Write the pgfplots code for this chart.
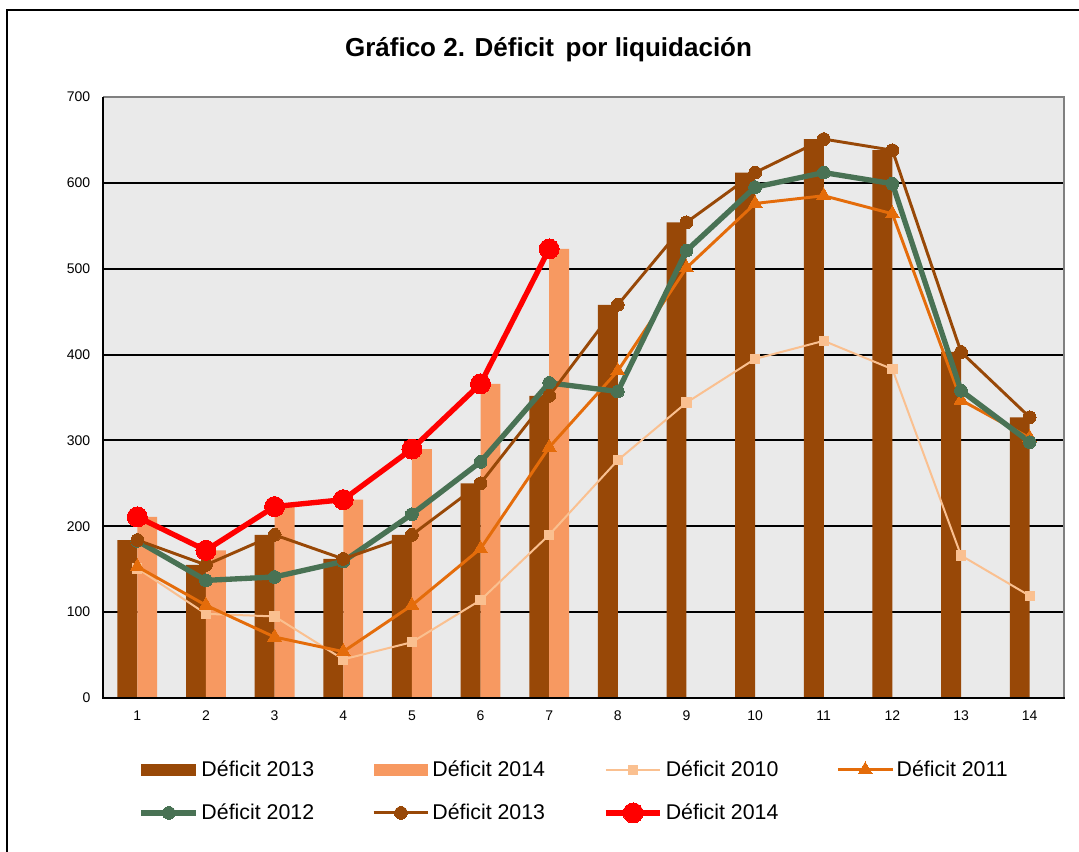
\documentclass[border=0pt]{standalone}
\usepackage{fontspec}
\setmainfont{Liberation Sans}
\usepackage{pgfplots}
\pgfplotsset{compat=1.18}
\definecolor{c13}{RGB}{152,72,7}
\definecolor{c14b}{RGB}{247,153,97}
\definecolor{c10}{RGB}{250,192,144}
\definecolor{c11}{RGB}{228,108,10}
\definecolor{c12}{RGB}{73,114,84}
\definecolor{bg}{RGB}{234,234,234}
\definecolor{bord}{RGB}{128,128,128}
\begin{document}
\begin{tikzpicture}[x=1pt,y=1pt]
\useasboundingbox (0,0) rectangle (809.25,638.25);
\draw[line width=1.5pt] (5.25,-10) -- (5.25,630.75) -- (830,630.75);
\node[anchor=base, font=\bfseries\fontsize{19.5}{22}\selectfont] at (411.4,595.5) {Gráfico 2. Déficit\, por liquidación};
\begin{axis}[name=ax, at={(77.25pt,114.75pt)}, anchor=south west, scale only axis,
  width=720.75pt, height=450.75pt,
  xmin=0.5, xmax=14.5, ymin=0, ymax=700,
  xtick={1,...,14}, ytick={0,100,...,700},
  major tick length=0pt,
  ymajorgrids, grid style={black, line width=1.4pt},
  axis line style={draw=none},
  axis background/.style={fill=bg},
  tick label style={font=\fontsize{10.5}{12}\selectfont},
  /pgf/number format/assume math mode=true,
  xticklabel style={yshift=-6pt},
  yticklabel style={xshift=-6pt},
  legend columns=4,
  legend cell align=left,
  legend style={at={(0.037,-0.1)}, anchor=north west, draw=none, fill=none,
    font=\fontsize{16}{19}\selectfont, row sep=15pt, inner sep=0pt},
  legend image code/.code={\draw[mark repeat=2,mark phase=2,#1] plot coordinates {(0pt,0pt) (20.5pt,0pt) (41pt,0pt)};},
]
\addplot[ybar, bar width=0.29, bar shift=-0.145, fill=c13, draw=none,
  legend image code/.code={\fill[c13] (0pt,-4.5pt) rectangle (41pt,4.5pt);}]
  coordinates {(1,184) (2,155) (3,190) (4,162) (5,190) (6,250) (7,352) (8,458) (9,554) (10,612) (11,651) (12,638) (13,403) (14,327)};
\addlegendentry{\makebox[126pt][l]{Déficit 2013}}
\addplot[ybar, bar width=0.29, bar shift=0.145, fill=c14b, draw=none,
  legend image code/.code={\fill[c14b] (0pt,-4.5pt) rectangle (41pt,4.5pt);}]
  coordinates {(1,211) (2,172) (3,223) (4,231) (5,290) (6,366) (7,523)};
\addlegendentry{\makebox[126pt][l]{Déficit 2014}}
\addplot[c10, line width=1.5pt, mark=square*, mark size=3.5pt, mark options={fill=c10, draw=c10, line width=0pt}]
  coordinates {(1,151) (2,98) (3,95) (4,45) (5,65) (6,114) (7,190) (8,277) (9,344) (10,395) (11,416) (12,383) (13,166) (14,119)};
\addlegendentry{\makebox[126pt][l]{Déficit 2010}}
\addplot[c11, line width=2.2pt, mark=triangle*, mark size=6pt, mark options={fill=c11, draw=c11, line width=0pt}]
  coordinates {(1,153) (2,108) (3,71) (4,54) (5,108) (6,174) (7,292) (8,381) (9,501) (10,576) (11,585) (12,564) (13,347) (14,303)};
\addlegendentry{\makebox[126pt][l]{Déficit 2011}}
\addplot[c12, line width=4pt, mark=*, mark size=4.8pt, mark options={fill=c12, draw=c12, line width=0pt}]
  coordinates {(1,183) (2,137) (3,141) (4,159) (5,214) (6,275) (7,367) (8,357) (9,521) (10,595) (11,612) (12,599) (13,358) (14,298)};
\addlegendentry{\makebox[126pt][l]{Déficit 2012}}
\addplot[c13, line width=2.2pt, mark=*, mark size=4.8pt, mark options={fill=c13, draw=c13, line width=0pt}]
  coordinates {(1,184) (2,155) (3,190) (4,162) (5,190) (6,250) (7,352) (8,458) (9,554) (10,612) (11,651) (12,638) (13,403) (14,327)};
\addlegendentry{\makebox[126pt][l]{Déficit 2013}}
\addplot[red, line width=4pt, mark=*, mark size=7.5pt, mark options={fill=red, draw=red, line width=0pt}]
  coordinates {(1,211) (2,172) (3,223) (4,231) (5,290) (6,366) (7,523)};
\addlegendentry{\makebox[126pt][l]{Déficit 2014}}
\end{axis}
\draw[bord, line width=2.2pt] (ax.south east) -- (ax.north east) -- (ax.north west);
\draw[black, line width=1.5pt] (ax.north west) -- (ax.south west) -- ([xshift=0.75pt]ax.south east);
\end{tikzpicture}
\end{document}
